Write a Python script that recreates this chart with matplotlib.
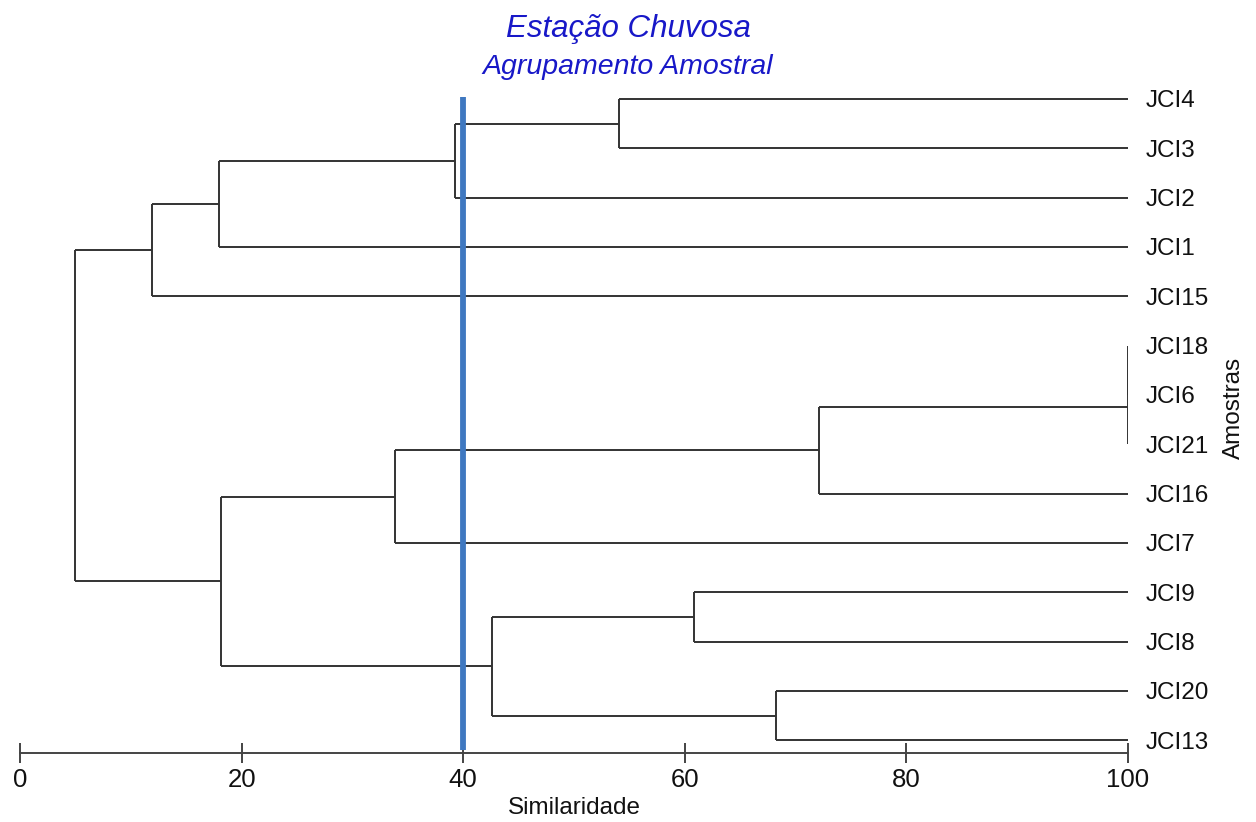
import matplotlib.pyplot as plt

plt.rcParams['font.family'] = ['Liberation Sans', 'DejaVu Sans']

# leaf order, top to bottom
samples = ['JCI4', 'JCI3', 'JCI2', 'JCI1', 'JCI15', 'JCI18', 'JCI6',
           'JCI21', 'JCI16', 'JCI7', 'JCI9', 'JCI8', 'JCI20', 'JCI13']

# merge steps: (left, right, similarity); clusters are named c0, c1, ...
merges = [
    ('JCI4', 'JCI3', 54.1),     # c0
    ('c0', 'JCI2', 39.3),       # c1
    ('c1', 'JCI1', 18.0),       # c2
    ('c2', 'JCI15', 11.9),      # c3
    ('JCI18', 'JCI6', 100.0),   # c4
    ('c4', 'JCI21', 100.0),     # c5
    ('c5', 'JCI16', 72.1),      # c6
    ('c6', 'JCI7', 33.8),       # c7
    ('JCI9', 'JCI8', 60.8),     # c8
    ('JCI20', 'JCI13', 68.2),   # c9
    ('c8', 'c9', 42.6),         # c10
    ('c7', 'c10', 18.1),        # c11
    ('c3', 'c11', 5.0),         # c12
]

cut_level = 40
xticks = [0, 20, 40, 60, 80, 100]

W, H = 1256, 822
fig = plt.figure(figsize=(W / 100, H / 100), dpi=100)
ax = fig.add_axes([20 / W, 1 - 753 / H, 1108 / W, (753 - 90) / H])

line_kw = dict(color='#333333', lw=1.4, solid_capstyle='butt')

# node -> (x, y)
pos = {}
for i, s in enumerate(samples):
    pos[s] = (100.0, i)

for k, (a, b, sim) in enumerate(merges):
    xa, ya = pos[a]
    xb, yb = pos[b]
    ax.plot([xa, sim], [ya, ya], **line_kw)
    ax.plot([xb, sim], [yb, yb], **line_kw)
    ax.plot([sim, sim], [ya, yb], **line_kw)
    pos['c%d' % k] = (sim, (ya + yb) / 2)

ax.plot([cut_level, cut_level], [-0.04, 13.2], color='#3f78c0', lw=4.2,
        solid_capstyle='butt', zorder=5)

ax.set_xlim(0, 100)
ax.set_ylim(13.26, -0.18)

for side in ['left', 'top', 'right']:
    ax.spines[side].set_visible(False)
ax.spines['bottom'].set_color('#444444')
ax.spines['bottom'].set_linewidth(1.4)

ax.set_xticks(xticks)
ax.set_xticklabels([str(t) for t in xticks])
ax.tick_params(axis='x', direction='inout', length=15, width=1.4,
               color='#444444', labelsize=18.5, pad=3, labelcolor='#111111')

ax.yaxis.tick_right()
ax.set_yticks(range(len(samples)))
ax.set_yticklabels(samples)
ax.tick_params(axis='y', length=0, pad=13, labelsize=17.5, labelcolor='#111111')

ax.set_xlabel('Similaridade', fontsize=17.5, color='#111111', labelpad=4)

fig.text(1234 / W, 1 - 408 / H, 'Amostras', rotation=90, fontsize=17.5,
         ha='center', va='center', color='#111111')

fig.text(0.5, 1 - 29 / H, 'Estação Chuvosa', fontsize=22.5, style='italic',
         ha='center', va='center', color='#1818c8')
fig.text(0.5, 1 - 67 / H, 'Agrupamento Amostral', fontsize=20.5,
         style='italic', ha='center', va='center', color='#1818c8')

fig.savefig('out.png', dpi=100)
